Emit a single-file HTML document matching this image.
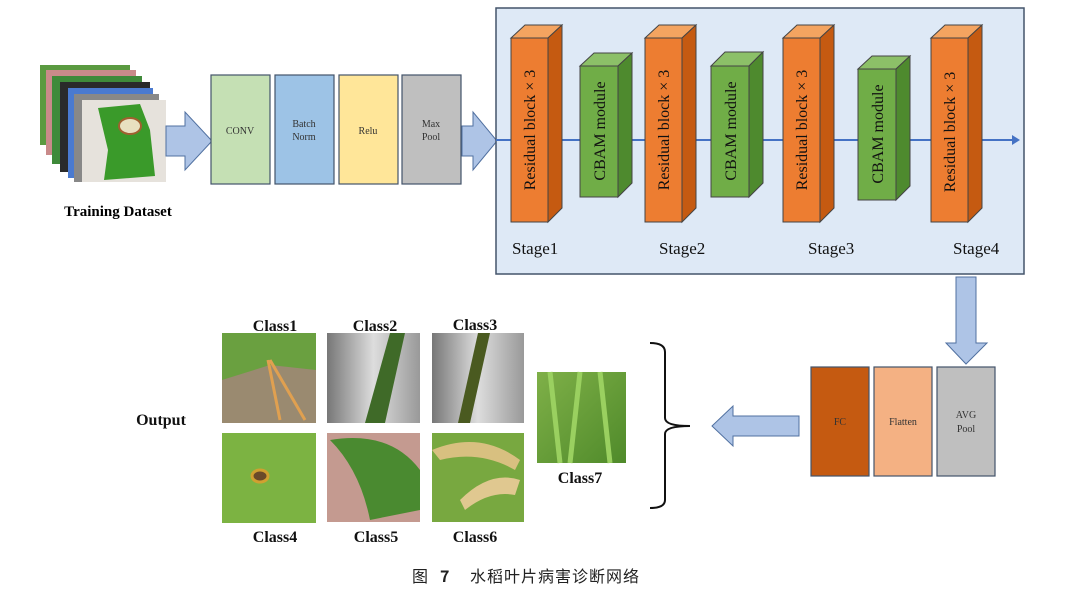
<!DOCTYPE html>
<html><head><meta charset="utf-8"><style>
body{margin:0;background:#fff;}
svg{display:block;font-family:"Liberation Serif","Noto Serif CJK SC",serif;}
</style></head><body>
<svg width="1080" height="594" viewBox="0 0 1080 594" xmlns="http://www.w3.org/2000/svg">
<defs>
<linearGradient id="g2" x1="0" x2="1"><stop offset="0" stop-color="#777"/><stop offset=".5" stop-color="#ddd"/><stop offset="1" stop-color="#999"/></linearGradient>
<linearGradient id="lg" x1="0" x2="1" y1="0" y2="1"><stop offset="0" stop-color="#7fb048"/><stop offset="1" stop-color="#4f8a2a"/></linearGradient>
</defs>
<rect x="40" y="65" width="90" height="80" fill="#5a9a40"/>
<rect x="46" y="70" width="90" height="85" fill="#c98a8a"/>
<rect x="52" y="76" width="90" height="88" fill="#3f8a3a"/>
<rect x="60" y="82" width="90" height="90" fill="#2a2a2a"/>
<rect x="68" y="88" width="85" height="90" fill="#4a7ad0"/>
<rect x="74" y="94" width="85" height="88" fill="#888"/>
<rect x="82" y="100" width="84" height="82" fill="#e6e2dc"/>
<path d="M98 108 L140 104 L150 130 L155 176 L104 180 L108 150 Z" fill="#3a9a2a"/>
<ellipse cx="130" cy="126" rx="11" ry="8" fill="#e8e0c0" stroke="#a06030" stroke-width="2"/>
<text x="118" y="216" font-size="15" font-weight="bold" text-anchor="middle">Training Dataset</text>
<path d="M166 126 H185 V112 L212 141 L185 170 V156 H166 Z" fill="#aec4e6" stroke="#5070a0" stroke-width="1"/>
<path d="M462 126 H473 V112 L497 141 L473 170 V156 H462 Z" fill="#aec4e6" stroke="#5070a0" stroke-width="1"/>
<g stroke="#44546a" stroke-width="1.2">
<rect x="211" y="75" width="59" height="109" fill="#c5e0b4"/>
<rect x="275" y="75" width="59" height="109" fill="#9dc3e6"/>
<rect x="339" y="75" width="59" height="109" fill="#ffe699"/>
<rect x="402" y="75" width="59" height="109" fill="#bfbfbf"/>
</g>
<g font-size="10" text-anchor="middle" fill="#333">
<text x="240" y="134">CONV</text>
<text x="304" y="127">Batch</text><text x="304" y="140">Norm</text>
<text x="368" y="134">Relu</text>
<text x="431" y="127">Max</text><text x="431" y="140">Pool</text>
</g>
<rect x="496" y="8" width="528" height="266" fill="#dee9f6" stroke="#44546a" stroke-width="1.5"/>
<line x1="496" y1="140" x2="1016" y2="140" stroke="#4472c4" stroke-width="2"/>
<path d="M1012 135 L1020 140 L1012 145 Z" fill="#4472c4"/>
<g stroke="#444" stroke-width="1">
<path d="M511 38 L525 25 L562 25 L548 38 Z" fill="#f4a460"/>
<path d="M548 38 L562 25 L562 208 L548 222 Z" fill="#c55a11"/>
<rect x="511" y="38" width="37" height="184" fill="#ed7d31"/>
<path d="M645 38 L659 25 L696 25 L682 38 Z" fill="#f4a460"/>
<path d="M682 38 L696 25 L696 208 L682 222 Z" fill="#c55a11"/>
<rect x="645" y="38" width="37" height="184" fill="#ed7d31"/>
<path d="M783 38 L797 25 L834 25 L820 38 Z" fill="#f4a460"/>
<path d="M820 38 L834 25 L834 208 L820 222 Z" fill="#c55a11"/>
<rect x="783" y="38" width="37" height="184" fill="#ed7d31"/>
<path d="M931 38 L945 25 L982 25 L968 38 Z" fill="#f4a460"/>
<path d="M968 38 L982 25 L982 208 L968 222 Z" fill="#c55a11"/>
<rect x="931" y="38" width="37" height="184" fill="#ed7d31"/>
<path d="M580 66 L594 53 L632 53 L618 66 Z" fill="#8cc068"/>
<path d="M618 66 L632 53 L632 183 L618 197 Z" fill="#4e8a2e"/>
<rect x="580" y="66" width="38" height="131" fill="#70ad47"/>
<path d="M711 66 L725 52 L763 52 L749 66 Z" fill="#8cc068"/>
<path d="M749 66 L763 52 L763 183 L749 197 Z" fill="#4e8a2e"/>
<rect x="711" y="66" width="38" height="131" fill="#70ad47"/>
<path d="M858 69 L872 56 L910 56 L896 69 Z" fill="#8cc068"/>
<path d="M896 69 L910 56 L910 186 L896 200 Z" fill="#4e8a2e"/>
<rect x="858" y="69" width="38" height="131" fill="#70ad47"/>
</g>
<g font-size="16" fill="#111" text-anchor="middle">
<text transform="translate(535,130) rotate(-90)">Residual block × 3</text>
<text transform="translate(669,130) rotate(-90)">Residual block × 3</text>
<text transform="translate(807,130) rotate(-90)">Residual block × 3</text>
<text transform="translate(955,132) rotate(-90)">Residual block × 3</text>
<text transform="translate(605,131) rotate(-90)">CBAM module</text>
<text transform="translate(736,131) rotate(-90)">CBAM module</text>
<text transform="translate(883,134) rotate(-90)">CBAM module</text>
</g>
<g font-size="17" fill="#111">
<text x="512" y="254">Stage1</text>
<text x="659" y="254">Stage2</text>
<text x="808" y="254">Stage3</text>
<text x="953" y="254">Stage4</text>
</g>
<path d="M956 277 H976 V343 H987 L966 364 L946 343 H956 Z" fill="#aec4e6" stroke="#5070a0" stroke-width="1"/>
<g stroke="#44546a" stroke-width="1.2">
<rect x="811" y="367" width="58" height="109" fill="#c55a11"/>
<rect x="874" y="367" width="58" height="109" fill="#f4b183"/>
<rect x="937" y="367" width="58" height="109" fill="#bfbfbf"/>
</g>
<g font-size="10" text-anchor="middle" fill="#333">
<text x="840" y="425">FC</text>
<text x="903" y="425">Flatten</text>
<text x="966" y="418">AVG</text><text x="966" y="432">Pool</text>
</g>
<path d="M799 416 V436 H733 V446 L712 426 L733 406 V416 Z" fill="#aec4e6" stroke="#5070a0" stroke-width="1"/>
<path d="M650 343 Q665 343 665 352 V418 Q665 426 690 426 Q665 426 665 434 V500 Q665 508 650 508" fill="none" stroke="#111" stroke-width="2"/>
<rect x="222" y="333" width="94" height="90" fill="#9a8a70"/>
<path d="M222 333 H316 V370 L270 365 L222 380 Z" fill="#6aa040"/>
<path d="M268 360 L280 420 M270 360 L305 420" stroke="#e0a050" stroke-width="3"/>
<rect x="327" y="333" width="93" height="90" fill="url(#g2)"/>
<path d="M390 333 L405 333 L385 423 L365 423 Z" fill="#3f6a28"/>
<rect x="432" y="333" width="92" height="90" fill="url(#g2)"/>
<path d="M478 333 L490 333 L470 423 L458 423 Z" fill="#4a5a20"/>
<rect x="222" y="433" width="94" height="90" fill="#7cb342"/>
<ellipse cx="260" cy="476" rx="8" ry="6" fill="#6a4a2a" stroke="#d0a030" stroke-width="3"/>
<rect x="327" y="433" width="93" height="89" fill="#c49a90"/>
<path d="M330 440 Q390 430 420 470 L420 510 L370 520 Q360 470 330 440 Z" fill="#4a8a30"/>
<rect x="432" y="433" width="92" height="89" fill="#78a840"/>
<path d="M432 450 Q480 430 520 460 L515 470 Q480 450 440 460 Z" fill="#d8c080"/>
<path d="M460 500 Q490 470 520 480 L515 495 Q490 490 465 510 Z" fill="#e0c890"/>
<rect x="537" y="372" width="89" height="91" fill="url(#lg)"/>
<path d="M550 372 L560 463 M580 372 L570 463 M600 372 L610 463" stroke="#9ad060" stroke-width="5"/>
<g font-size="16" font-weight="bold" text-anchor="middle" fill="#111">
<text x="275" y="331">Class1</text>
<text x="375" y="331">Class2</text>
<text x="475" y="330">Class3</text>
<text x="275" y="542">Class4</text>
<text x="376" y="542">Class5</text>
<text x="475" y="542">Class6</text>
<text x="580" y="483">Class7</text>
<text x="161" y="425">Output</text>
</g>
<g font-size="16" font-family="'Noto Sans CJK SC',sans-serif" fill="#222">
<text x="412" y="582">图</text>
<text x="440" y="582" font-weight="bold">7</text>
<text x="470" y="582" letter-spacing="1">水稻叶片病害诊断网络</text>
</g>
</svg>
</body></html>
